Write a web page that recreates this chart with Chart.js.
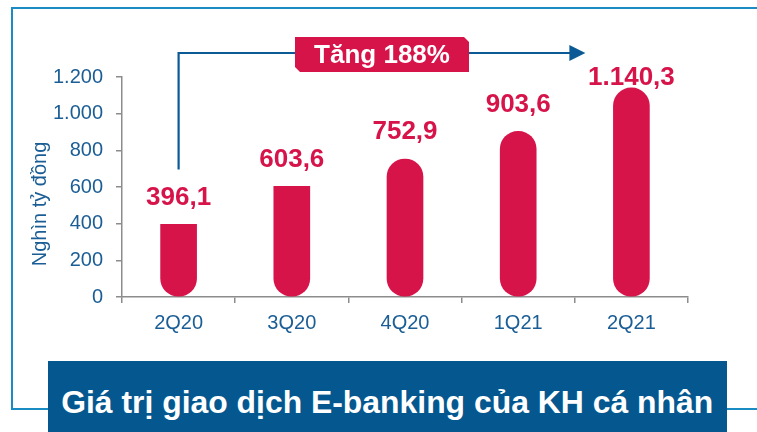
<!DOCTYPE html>
<html>
<head>
<meta charset="utf-8">
<script src="https://cdn.jsdelivr.net/npm/chart.js@4.4.1/dist/chart.umd.min.js"></script>
<style>
  html, body { margin: 0; padding: 0; background: #fff; width: 757px; height: 432px; overflow: hidden; }
  body { position: relative; font-family: "Liberation Sans", Arial, sans-serif; }
  #frame { position: absolute; left: 11px; top: 7px; width: 760px; height: 399px; border: 2px solid #1a8cc4; border-right: none; }
  #chart { position: absolute; left: 0; top: 0; }
  #titleBox { position: absolute; left: 48px; top: 361px; width: 679px; height: 71px; background: #04588f; overflow: hidden; }
  #titleText { position: absolute; left: 0; width: 679px; top: 23px; text-align: center; white-space: nowrap; color: #fff;
    font-family: "Liberation Sans Narrow", "Arial Narrow", "Liberation Sans", Arial, sans-serif; font-weight: bold; font-size: 32px; line-height: 36px; }
  #titleText span { display: inline-block; transform-origin: center center; }
</style>
</head>
<body>
<div id="frame"></div>
<canvas id="chart" width="757" height="432"></canvas>
<div id="titleBox"><div id="titleText"><span id="titleSpan">Giá trị giao dịch E-banking của KH cá nhân</span></div></div>
<script>
const categories = ["2Q20", "3Q20", "4Q20", "1Q21", "2Q21"];
const values = [396.1, 603.6, 752.9, 903.6, 1140.3];
const yTicks = [0, 200, 400, 600, 800, 1000, 1200];
const axisTitle = "Nghìn tỷ đồng";
const growthLabel = "Tăng 188%";

const red = "#d7144a";
const blue = "#1b5e96";
const arrowBlue = "#0b5a96";
const axisGray = "#8c8c8c";

// vietnamese style numbers: 1.140,3
function fmt(v, decimals) {
  const s = v.toFixed(decimals);
  const parts = s.split(".");
  const intPart = parts[0].replace(/\B(?=(\d{3})+(?!\d))/g, ".");
  return parts.length > 1 ? intPart + "," + parts[1] : intPart;
}

// fit the narrow title text into the box
const span = document.getElementById("titleSpan");
const w = span.getBoundingClientRect().width;
span.style.transform = "scaleX(" + (652 / w) + ")";

const overlay = {
  id: "overlay",
  afterDatasetsDraw(chart) {
    const { ctx, chartArea, scales } = chart;
    const meta = chart.getDatasetMeta(0);
    const arrowY = chartArea.top - 24;

    // value labels
    ctx.save();
    ctx.font = "bold 26px 'Liberation Sans', Arial, sans-serif";
    ctx.fillStyle = red;
    ctx.textAlign = "center";
    ctx.textBaseline = "middle";
    const labelYs = [];
    meta.data.forEach((bar, i) => {
      const y = Math.max(bar.y - 27, arrowY + 25);
      labelYs.push(y);
      ctx.fillText(fmt(values[i], 1), bar.x, y);
    });
    ctx.restore();

    // axis title
    ctx.save();
    ctx.font = "20px 'Liberation Sans', Arial, sans-serif";
    ctx.fillStyle = blue;
    ctx.textAlign = "center";
    ctx.textBaseline = "middle";
    ctx.translate(40, chartArea.bottom - 93);
    ctx.rotate(-Math.PI / 2);
    ctx.fillText(axisTitle, 0, 0);
    ctx.restore();

    // growth arrow
    const x0 = scales.x.getPixelForValue(0);
    const x1 = scales.x.getPixelForValue(categories.length - 1) - 46;
    const yStart = labelYs[0] - 28;
    ctx.save();
    ctx.strokeStyle = arrowBlue;
    ctx.lineWidth = 2.2;
    ctx.beginPath();
    ctx.moveTo(x0, yStart);
    ctx.lineTo(x0, arrowY);
    ctx.lineTo(x1 - 14, arrowY);
    ctx.stroke();
    ctx.fillStyle = arrowBlue;
    ctx.beginPath();
    ctx.moveTo(x1, arrowY);
    ctx.lineTo(x1 - 16, arrowY - 8);
    ctx.lineTo(x1 - 16, arrowY + 8);
    ctx.closePath();
    ctx.fill();

    // growth tag
    const cx = (x0 + x1) / 2;
    const bw = 174, bh = 35, c = 5;
    const bx = cx - bw / 2, by = arrowY - 16;
    ctx.fillStyle = red;
    ctx.beginPath();
    ctx.moveTo(bx, by);
    ctx.lineTo(bx + bw - c, by);
    ctx.lineTo(bx + bw, by + c);
    ctx.lineTo(bx + bw, by + bh);
    ctx.lineTo(bx + c, by + bh);
    ctx.lineTo(bx, by + bh - c);
    ctx.closePath();
    ctx.fill();
    ctx.font = "bold 26px 'Liberation Sans', Arial, sans-serif";
    ctx.fillStyle = "#ffffff";
    ctx.textAlign = "center";
    ctx.textBaseline = "middle";
    ctx.fillText(growthLabel, cx, by + bh / 2 + 1);
    ctx.restore();
  }
};

new Chart(document.getElementById("chart"), {
  type: "bar",
  data: {
    labels: categories,
    datasets: [{
      data: values,
      backgroundColor: red,
      barThickness: 36,
      borderSkipped: false,
      borderRadius: (ctx) => ctx.dataIndex < 2
        ? { topLeft: 0, topRight: 0, bottomLeft: 18, bottomRight: 18 }
        : 18
    }]
  },
  options: {
    responsive: false,
    animation: false,
    devicePixelRatio: 1,
    layout: { padding: { left: 0, top: 77, right: 69, bottom: 0 } },
    plugins: { legend: { display: false }, tooltip: { enabled: false } },
    scales: {
      x: {
        grid: { drawOnChartArea: false, drawTicks: true, tickLength: 6, color: axisGray, lineWidth: 1.5 },
        border: { color: axisGray, width: 1.5 },
        ticks: { color: blue, font: { size: 20, family: "'Liberation Sans', Arial, sans-serif" }, padding: 8 },
        afterFit(scale) { scale.height = 135; scale.paddingLeft = 0; scale.paddingRight = 0; }
      },
      y: {
        min: 0,
        max: 1200,
        afterBuildTicks(scale) { scale.ticks = yTicks.map((v) => ({ value: v })); },
        grid: { drawOnChartArea: false, drawTicks: true, tickLength: 6, color: axisGray, lineWidth: 1.5 },
        border: { color: axisGray, width: 1.5 },
        ticks: {
          color: blue,
          font: { size: 20, family: "'Liberation Sans', Arial, sans-serif" },
          padding: 13,
          callback: (v) => fmt(v, 0)
        },
        afterFit(scale) { scale.width = 122; scale.paddingTop = 0; scale.paddingBottom = 0; }
      }
    }
  },
  plugins: [overlay]
});
</script>
</body>
</html>
